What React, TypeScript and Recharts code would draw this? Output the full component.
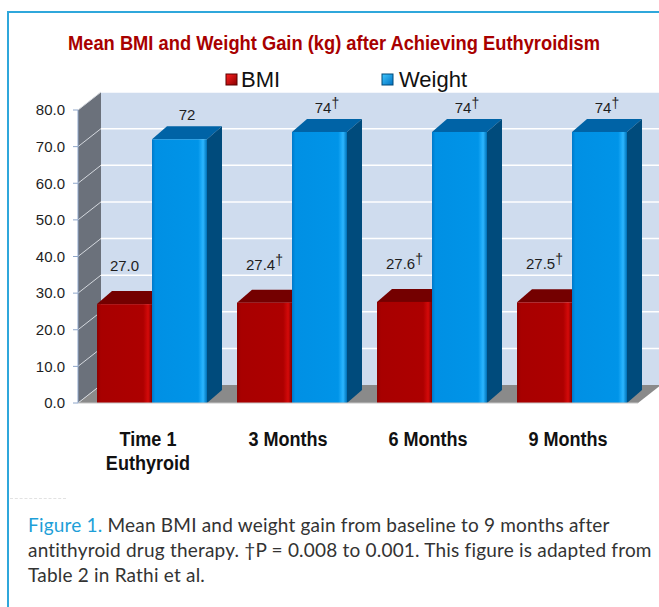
import { BarChart, Bar, XAxis, YAxis, CartesianGrid, LabelList } from "recharts"

// valores
const categories = ["Time 1\nEuthyroid", "3 Months", "6 Months", "9 Months"]
const bmi = [27.0, 27.4, 27.6, 27.5]
const weight = [72, 74, 74, 74]
const significant = [false, true, true, true]
const yTicks = [0, 10, 20, 30, 40, 50, 60, 70, 80]
const seriesNames = ["BMI", "Weight"]

const data = categories.map((name, i) => ({ name, bmi: bmi[i], weight: weight[i], sig: significant[i] }))

const WALL_DX = 23
const WALL_DY = 18
const BAR_DX = 15
const BAR_DY = 13
const SHIFT = 4
const SANS = "'Liberation Sans', Arial, sans-serif"

const COLORS = {
  bmi: { grad: "url(#gBmi)", top: "#740000", side: "#5c0000" },
  weight: { grad: "url(#gWeight)", top: "#0063a6", side: "#004b7c" },
}

// paredes 3D + líneas de la cuadrícula
const GridLine = (props: any) => {
  const { x1, x2, y1, index, horizontalPoints } = props
  const pts: number[] = horizontalPoints || [y1]
  const top = Math.min(...pts)
  const bottom = Math.max(...pts)
  const isBottom = Math.abs(y1 - bottom) < 0.5
  return (
    <g>
      {index === 0 && (
        <g>
          <polygon
            points={`${x1},${bottom} ${x1},${top} ${x1 + WALL_DX},${top - WALL_DY} ${x1 + WALL_DX},${bottom - WALL_DY}`}
            fill="#6b717b"
          />
          <rect x={x1 + WALL_DX} y={top - WALL_DY} width={x2 - x1 + 40} height={bottom - top} fill="#cfdcee" />
          <polygon
            points={`${x1},${bottom} ${x2},${bottom} ${x2 + WALL_DX},${bottom - WALL_DY} ${x1 + WALL_DX},${bottom - WALL_DY}`}
            fill="#8a8a8a"
          />
        </g>
      )}
      <line x1={x1} y1={y1} x2={x1 + WALL_DX} y2={y1 - WALL_DY} stroke="#d4d8de" strokeWidth={1} />
      {!isBottom && (
        <line x1={x1 + WALL_DX} y1={y1 - WALL_DY} x2={x2 + WALL_DX + 40} y2={y1 - WALL_DY} stroke="#ffffff" strokeWidth={1.5} />
      )}
    </g>
  )
}

const Bar3D = (props: any) => {
  const { x, y, width, height, c } = props
  if (height <= 0) return null
  const X = x + SHIFT
  return (
    <g>
      <polygon points={`${X},${y} ${X + BAR_DX},${y - BAR_DY} ${X + width + BAR_DX},${y - BAR_DY} ${X + width},${y}`} fill={c.top} />
      <polygon
        points={`${X + width},${y} ${X + width + BAR_DX},${y - BAR_DY} ${X + width + BAR_DX},${y + height - BAR_DY} ${X + width},${y + height}`}
        fill={c.side}
      />
      <rect x={X} y={y} width={width} height={height} fill={c.grad} />
    </g>
  )
}

const makeLabel = (lift: number, center: (w: number) => number, digits: number) => (p: any) => {
  const { x, y, width, value, index } = p
  const txt = digits > 0 ? Number(value).toFixed(digits) : String(value)
  return (
    <text x={x + SHIFT + center(width)} y={y - BAR_DY - lift} textAnchor="middle" fontFamily={SANS} fontSize={15} fill="#1e1e1e">
      {txt}
      {data[index]?.sig && (
        <tspan fontSize={14} dy={-5}>
          †
        </tspan>
      )}
    </text>
  )
}

// texto condensado (no hay Arial Narrow)
const CatTick = ({ x, y, payload }: any) => {
  const lines = String(payload.value).split("\n")
  return (
    <g transform={`translate(${x},${y}) scale(0.86,1)`}>
      <text x={0} y={0} textAnchor="middle" fontFamily={SANS} fontWeight="bold" fontSize={21} fill="#111">
        {lines.map((l, i) => (
          <tspan key={i} x={0} dy={i === 0 ? 43 : 24}>
            {l}
          </tspan>
        ))}
      </text>
    </g>
  )
}

export default function App() {
  return (
    <div style={{ position: "absolute", left: 0, top: 0, width: 659, height: 607, overflow: "hidden", background: "#fff" }}>
      {/* marco azul */}
      <div style={{ position: "absolute", left: 7, top: 11, width: 700, height: 700, borderTop: "2px solid #2fa7db", borderLeft: "2px solid #2fa7db" }} />

      <div style={{ position: "absolute", left: 0, top: 0 }}>
        <BarChart width={659} height={500} data={data} margin={{ top: 110, right: 21, bottom: 37, left: 18 }} barGap={0}>
          <defs>
            <linearGradient id="gBmi" x1="0" y1="0" x2="1" y2="0">
              <stop offset="0" stopColor="#8e0000" />
              <stop offset="0.07" stopColor="#a80000" />
              <stop offset="0.84" stopColor="#ad0000" />
              <stop offset="0.93" stopColor="#d40a0a" />
              <stop offset="1" stopColor="#7c0000" />
            </linearGradient>
            <linearGradient id="gWeight" x1="0" y1="0" x2="1" y2="0">
              <stop offset="0" stopColor="#0078c8" />
              <stop offset="0.06" stopColor="#0090e4" />
              <stop offset="0.84" stopColor="#0094e8" />
              <stop offset="0.93" stopColor="#2cb6ff" />
              <stop offset="1" stopColor="#0070b6" />
            </linearGradient>
          </defs>
          <CartesianGrid vertical={false} horizontal={GridLine} />
          <XAxis dataKey="name" interval={0} height={60} tickSize={0} tickMargin={0} tickLine={false} axisLine={{ stroke: "#c6c6c6" }} tick={<CatTick />} />
          <YAxis
            domain={[0, 80]}
            ticks={yTicks}
            width={60}
            tickSize={5}
            tickMargin={8}
            tickFormatter={(v: number) => v.toFixed(1)}
            axisLine={{ stroke: "#8ea6ca" }}
            tickLine={{ stroke: "#8ea6ca" }}
            tick={{ fill: "#1e1e1e", fontSize: 15, fontFamily: SANS }}
          />
          <Bar dataKey="bmi" name={seriesNames[0]} barSize={55} isAnimationActive={false} shape={(p: any) => <Bar3D {...p} c={COLORS.bmi} />}>
            <LabelList dataKey="bmi" content={makeLabel(20, (w) => w / 2, 1)} />
          </Bar>
          <Bar dataKey="weight" name={seriesNames[1]} barSize={55} isAnimationActive={false} shape={(p: any) => <Bar3D {...p} c={COLORS.weight} />}>
            <LabelList dataKey="weight" content={makeLabel(6, (w) => (w + BAR_DX) / 2, 0)} />
          </Bar>
        </BarChart>
      </div>

      {/* título y leyenda */}
      <svg width={659} height={100} style={{ position: "absolute", left: 0, top: 0 }}>
        <defs>
          <linearGradient id="lgBmi" x1="0" y1="0" x2="1" y2="1">
            <stop offset="0" stopColor="#ff2020" />
            <stop offset="1" stopColor="#8a0000" />
          </linearGradient>
          <linearGradient id="lgWeight" x1="0" y1="0" x2="1" y2="1">
            <stop offset="0" stopColor="#40c8ff" />
            <stop offset="1" stopColor="#0070c0" />
          </linearGradient>
        </defs>
        <text x={68} y={50} textLength={532} lengthAdjust="spacingAndGlyphs" fontFamily={SANS} fontWeight="bold" fontSize={19.5} fill="#a80000">
          Mean BMI and Weight Gain (kg) after Achieving Euthyroidism
        </text>
        <rect x={226} y={74} width={11} height={11} fill="url(#lgBmi)" stroke="#5a0000" />
        <text x={241} y={87} fontFamily={SANS} fontSize={22} fill="#111">
          {seriesNames[0]}
        </text>
        <rect x={382} y={74} width={11} height={11} fill="url(#lgWeight)" stroke="#004a7a" />
        <text x={399} y={87} fontFamily={SANS} fontSize={22} fill="#111">
          {seriesNames[1]}
        </text>
      </svg>

      <div style={{ position: "absolute", left: 10, top: 498, width: 56, borderTop: "1px dashed #e2e2e2" }} />

      {/* pie de figura */}
      <div
        style={{
          position: "absolute",
          left: 28,
          top: 512,
          width: 631,
          fontFamily: "Lato, 'Open Sans', sans-serif",
          fontSize: 19,
          letterSpacing: "0.2px",
          lineHeight: "25px",
          color: "#333",
          whiteSpace: "nowrap",
        }}
      >
        <span style={{ color: "#1e9fd8" }}>Figure 1.</span> Mean BMI and weight gain from baseline to 9 months after
        <br />
        antithyroid drug therapy. †P = 0.008 to 0.001. This figure is adapted from
        <br />
        Table 2 in Rathi et al.
      </div>
    </div>
  )
}
